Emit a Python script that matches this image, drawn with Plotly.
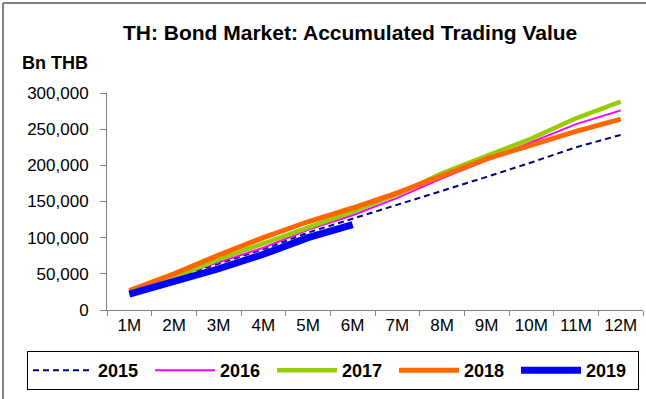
import plotly.graph_objects as go

# Accumulated bond trading value by month, Bn THB
months = ["1M", "2M", "3M", "4M", "5M", "6M", "7M", "8M", "9M", "10M", "11M", "12M"]
y2015 = [24000, 44000, 65000, 84000, 107000, 126000, 145000, 164000, 184000, 204000, 225000, 242000]
y2016 = [25000, 46000, 66000, 86000, 111000, 131000, 155000, 182000, 207000, 232000, 257000, 276000]
y2017 = [25000, 45000, 70000, 92000, 115000, 136000, 160000, 189000, 213000, 237000, 265000, 288000]
y2018 = [27000, 50000, 76000, 100000, 122000, 141000, 162000, 186000, 209000, 228000, 247000, 264000]
y2019 = [22000, 39000, 57000, 77000, 100000, 118000]

FONT = "Liberation Sans, Arial, sans-serif"

series = [
    ("2015", y2015, "#000080", 2, "6px,4px"),
    ("2016", y2016, "#FF00FF", 2, "solid"),
    ("2017", y2017, "#99CC00", 4.5, "solid"),
    ("2018", y2018, "#FF6600", 5, "solid"),
    ("2019", y2019, "#0000FF", 7, "solid"),
]

fig = go.Figure()
for name, vals, color, width, dash in series:
    fig.add_trace(go.Scatter(
        x=months[:len(vals)], y=vals, name=f"<b>{name}</b>", mode="lines",
        line=dict(color=color, width=width, dash=dash),
    ))

axis_color = "#808080"
fig.update_layout(
    width=646, height=399,
    margin=dict(l=107, r=3, t=93, b=89, autoexpand=False),
    paper_bgcolor="white", plot_bgcolor="white",
    font=dict(family=FONT, size=17, color="black"),
    title=dict(
        text="<b>TH: Bond Market: Accumulated Trading Value</b>",
        x=0.542, xref="container", xanchor="center",
        y=1 - 33 / 399, yref="container", yanchor="middle",
        font=dict(family=FONT, size=21, color="black"),
    ),
    xaxis=dict(
        type="category", range=[-0.5, 11.5],
        tickson="boundaries", ticks="outside", ticklen=5,
        tickcolor=axis_color, showline=True, linecolor=axis_color,
        linewidth=1, showgrid=False, zeroline=False,
        tickfont=dict(family=FONT, size=17, color="black"),
    ),
    yaxis=dict(
        range=[0, 300000], dtick=50000, tickformat=",",
        ticks="outside", ticklen=6, tickcolor=axis_color,
        showline=True, linecolor=axis_color, linewidth=1,
        showgrid=False, zeroline=False, ticklabelstandoff=8,
        tickfont=dict(family=FONT, size=17, color="black"),
    ),
    legend=dict(
        orientation="h", x=(27 - 107) / 536, xanchor="left",
        y=(310 - 351) / 217, yanchor="top",
        bgcolor="white", bordercolor="black", borderwidth=1,
        itemwidth=60, entrywidth=47, entrywidthmode="pixels",
        font=dict(family=FONT, size=18, color="black"),
        itemclick=False,
    ),
    showlegend=True,
)

# unit label above the value axis
fig.add_annotation(
    text="<b>Bn THB</b>", xref="paper", yref="paper",
    x=(20 - 107) / 536, y=(310 - 63) / 217,
    xanchor="left", yanchor="middle", showarrow=False,
    font=dict(family=FONT, size=18, color="black"),
)

# frame lines along the left and top edges
px_x = lambda p: (p - 107) / 536
px_y = lambda p: (310 - p) / 217
fig.add_shape(type="line", xref="paper", yref="paper",
              x0=px_x(3), x1=px_x(3), y0=px_y(3), y1=px_y(399),
              line=dict(color="#7f7f7f", width=2))
fig.add_shape(type="line", xref="paper", yref="paper",
              x0=px_x(3), x1=px_x(646), y0=px_y(3), y1=px_y(3),
              line=dict(color="#7f7f7f", width=2))

fig.write_html("out.html")
